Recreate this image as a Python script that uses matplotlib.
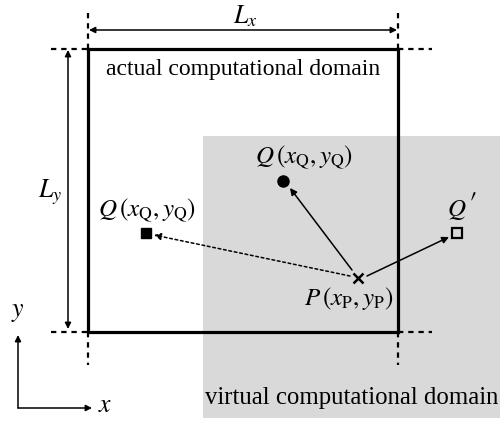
import matplotlib
matplotlib.use("Agg")
import matplotlib.pyplot as plt
from matplotlib.patches import Rectangle, FancyArrowPatch

plt.rcParams['font.family'] = ['Liberation Serif', 'DejaVu Serif']
plt.rcParams['mathtext.fontset'] = 'stix'

# --- diagram data (pixel coordinates of the reference layout) ---
domain_x = [88, 398]          # actual domain left/right
domain_y = [49, 332]          # actual domain top/bottom
virtual_box = [203, 136, 500, 418]   # x0, y0, x1, y1
point_P = (358, 278)
point_Q_in = (283, 181)
point_Q_virtual = (146, 233)
point_Q_prime = (457, 233)

labels = {
    'Lx': r'$L_x$',
    'Ly': r'$L_y$',
    'Q1': r'$Q\,(x_{\mathrm{Q}}, y_{\mathrm{Q}})$',
    'Q2': r'$Q\,(x_{\mathrm{Q}}, y_{\mathrm{Q}})$',
    'Qp': r'$Q$',
    'prime': r'$\prime$',
    'P': r'$P\,(x_{\mathrm{P}}, y_{\mathrm{P}})$',
    'actual': 'actual computational domain',
    'virtual': 'virtual computational domain',
}

fig = plt.figure(figsize=(5.04, 4.21), dpi=100)
ax = fig.add_axes([0, 0, 1, 1])
ax.set_xlim(0, 504)
ax.set_ylim(421, 0)
ax.axis('off')

# virtual domain
vx0, vy0, vx1, vy1 = virtual_box
ax.add_patch(Rectangle((vx0, vy0), vx1 - vx0, vy1 - vy0, facecolor='#d9d9d9',
                       edgecolor='none', zorder=0))

# actual domain square
x0, x1 = domain_x
y0, y1 = domain_y
ax.plot([x0, x1, x1, x0, x0], [y0, y0, y1, y1, y0], color='black', lw=2.3,
        solid_joinstyle='miter', zorder=3)

# dashed extension lines
dash = dict(color='black', lw=1.6, linestyle=(0, (2.4, 2.2)), zorder=3)
for yy in (y0, y1):
    ax.plot([51, x0], [yy, yy], **dash)
    ax.plot([x1, 432], [yy, yy], **dash)
for xx in (x0, x1):
    ax.plot([xx, xx], [13, y0], **dash)
    ax.plot([xx, xx], [y1, 365], **dash)

def arrow(p, q, style='-|>', ls='-', lw=1.1, ms=10):
    a = FancyArrowPatch(p, q, arrowstyle=style, mutation_scale=ms, color='black',
                        lw=lw, linestyle=ls, shrinkA=0, shrinkB=0, zorder=4)
    ax.add_patch(a)

# L_x and L_y dimension arrows
arrow((x0 + 1, 30), (x1 - 1, 30), style='<|-|>', ms=9)
arrow((68, y0 + 1), (68, y1 - 3), style='<|-|>', ms=9)
ax.text(245, 16, labels['Lx'], fontsize=18.5, ha='center', va='center')
ax.text(50, 192, labels['Ly'], fontsize=18.5, ha='center', va='center')

# domain labels
ax.text(243, 69, labels['actual'], fontsize=17, ha='center', va='center')
ax.text(352, 398, labels['virtual'], fontsize=17.8, ha='center', va='center')

# points
ax.plot(*point_Q_in, marker='o', ms=8, color='black', zorder=5)
ax.plot(*point_Q_virtual, marker='s', ms=6.5, color='black', zorder=5)
ax.plot(*point_Q_prime, marker='s', ms=6.5, mfc='none', mec='black', mew=1.6, zorder=5)
ax.plot(*point_P, marker='x', ms=7, mew=1.8, color='black', zorder=5)

# arrows from P
arrow((point_P[0] - 6, point_P[1] - 8), (point_Q_in[0] + 7, point_Q_in[1] + 7))
arrow((point_P[0] + 9, point_P[1] - 2), (point_Q_prime[0] - 8, point_Q_prime[1] + 4))
arrow((point_P[0] - 8, point_P[1] - 2), (point_Q_virtual[0] + 8, point_Q_virtual[1] + 2),
      ls=(0, (1.8, 1.8)))

# point labels
ax.text(304, 157, labels['Q1'], fontsize=18, ha='center', va='center')
ax.text(147, 210, labels['Q2'], fontsize=18, ha='center', va='center')
ax.text(457, 210, labels['Qp'], fontsize=18, ha='center', va='center')
ax.text(472, 203, labels['prime'], fontsize=22, ha='center', va='center')
ax.text(349, 298, labels['P'], fontsize=18, ha='center', va='center')

# coordinate axes
arrow((18, 408), (18, 335), ms=9)
arrow((18, 408), (92, 408), ms=9)
ax.text(18, 313, r'$y$', fontsize=18.5, ha='center', va='center')
ax.text(105, 406, r'$x$', fontsize=18.5, ha='center', va='center')

fig.savefig('out.png', dpi=100)
